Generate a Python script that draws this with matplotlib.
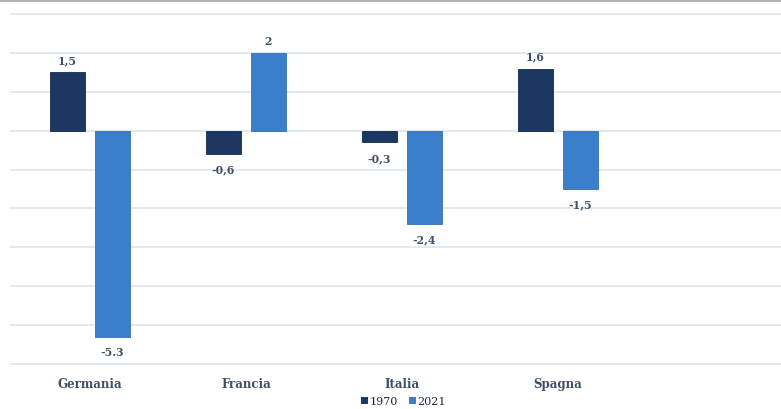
import matplotlib
matplotlib.use("Agg")
import matplotlib.pyplot as plt
from matplotlib.patches import Patch
from matplotlib.lines import Line2D
import numpy as np

paesi = ["Germania", "Francia", "Italia", "Spagna"]
anni = ["1970", "2021"]
val_1970 = [1.5, -0.6, -0.3, 1.6]
val_2021 = [-5.3, 2.0, -2.4, -1.5]
etich_1970 = ["1,5", "-0,6", "-0,3", "1,6"]
etich_2021 = ["-5.3", "2", "-2,4", "-1,5"]

COL_1970 = "#1b3762"
COL_2021 = "#3b7fcb"
TESTO = "#3f4f66"
GRIGLIA = "#dbe6ee"

plt.rcParams["font.family"] = ["DejaVu Serif"]

fig = plt.figure(figsize=(7.81, 4.10), dpi=100)
ax = fig.add_axes([10 / 781, 44 / 410, 771 / 781, 352 / 410])

x = np.arange(len(paesi))
w = 0.224
off = 0.144
b1 = ax.bar(x - off, val_1970, w, color=COL_1970, edgecolor="#142a4c", linewidth=0.6, zorder=3)
b2 = ax.bar(x + off, val_2021, w, color=COL_2021, edgecolor="#336fb3", linewidth=0.6, zorder=3)

# etichette sopra/sotto le barre
for barre, vals, etich in ((b1, val_1970, etich_1970), (b2, val_2021, etich_2021)):
    for r, v, t in zip(barre, vals, etich):
        cx = r.get_x() + r.get_width() / 2
        if v >= 0:
            ax.annotate(t, (cx, v), xytext=(0, 5), textcoords="offset points",
                        ha="center", va="bottom", fontsize=7.8, color=TESTO, fontweight="bold")
        else:
            ax.annotate(t, (cx, v), xytext=(0, -7), textcoords="offset points",
                        ha="center", va="top", fontsize=7.8, color=TESTO, fontweight="bold")

ax.set_xlim(-0.513, 4.43)
ax.set_ylim(-6.03, 3.03)
ax.set_yticks(np.arange(-6, 4, 1))
ax.yaxis.grid(True, color=GRIGLIA, linewidth=1.2, zorder=0)
ax.tick_params(axis="y", left=False, labelleft=False)
ax.set_xticks(x)
ax.set_xticklabels(paesi, fontsize=8.5, color=TESTO, fontweight="bold")
ax.tick_params(axis="x", length=0, pad=9)
for s in ax.spines.values():
    s.set_visible(False)

handles = [Patch(facecolor=COL_1970, label=anni[0]), Patch(facecolor=COL_2021, label=anni[1])]
fig.legend(handles=handles, loc="lower center", bbox_to_anchor=(0.517, -0.012), ncol=2,
           frameon=False, fontsize=8, handlelength=0.6, handleheight=0.6,
           handletextpad=0.15, columnspacing=1.0, labelcolor="#1b2a44",
           borderpad=0.2)

# linea grigia in alto
fig.add_artist(Line2D([0, 1], [0.997, 0.997], transform=fig.transFigure,
                      color="#aeb2ae", linewidth=2))

fig.savefig("out.png", dpi=100)
